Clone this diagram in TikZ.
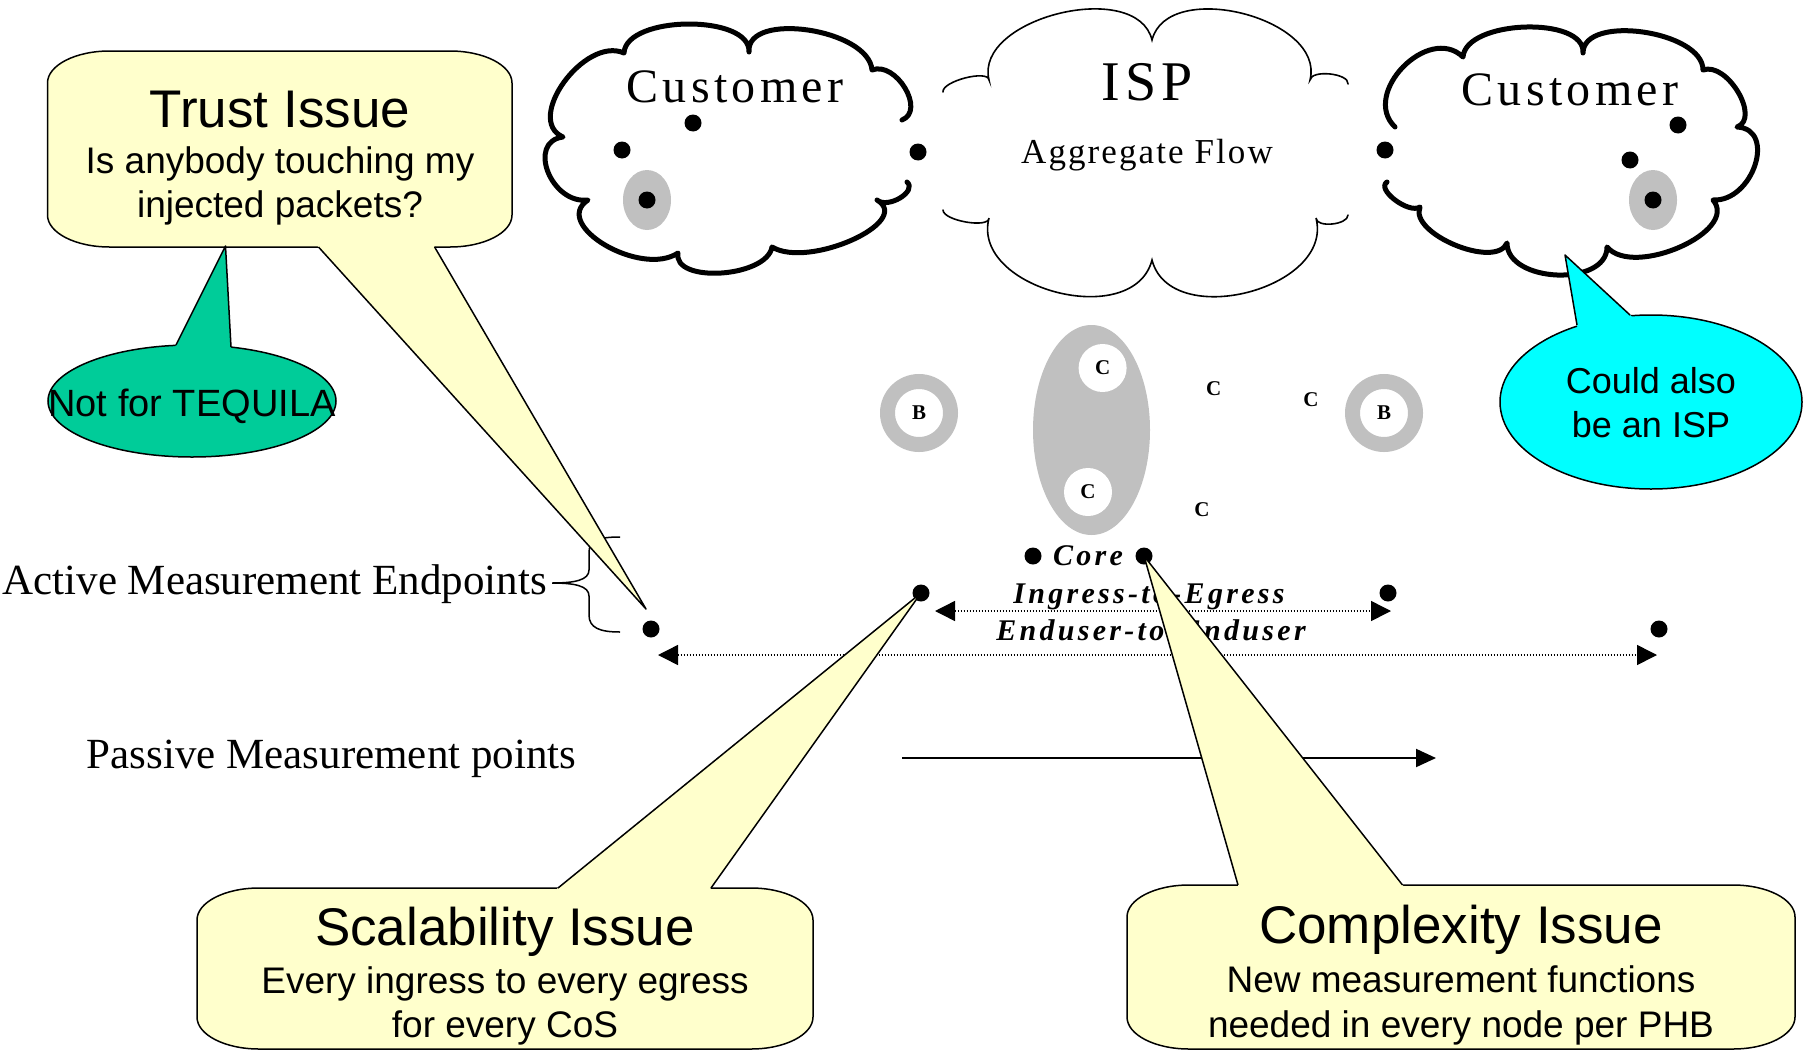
\documentclass[tikz,border=0pt]{standalone}
\usepackage{fontspec}
\setmainfont{Liberation Serif}
\newfontfamily\calloutfont{Liberation Sans}
\newfontfamily\spacedfont[LetterSpace=9]{Liberation Serif}
\newfontfamily\aggfont[LetterSpace=6]{Liberation Serif}
\newfontfamily\widefont[LetterSpace=11]{Liberation Serif}
\usetikzlibrary{calc,arrows.meta}

\definecolor{noteyellow}{HTML}{FFFFCC}
\definecolor{notegreen}{HTML}{00CC99}
\definecolor{notecyan}{HTML}{00FFFF}
\definecolor{ringgray}{HTML}{C0C0C0}

\newcommand{\setfs}[1]{\fontsize{#1}{#1}\selectfont}
\newcommand{\rtrfont}{\bfseries\setfs{21}}

% rounded note box with oval corners: x1, y1, x2, y2
\newcommand{\notebox}[4]{%
  \filldraw[notebody] ({#1+62},#2) -- ({#3-62},#2)
    .. controls ({#3-27.8},#2) and (#3,{#2+14.3}) .. (#3,{#2+32})
    -- (#3,{#4-32})
    .. controls (#3,{#4-14.3}) and ({#3-27.8},#4) .. ({#3-62},#4)
    -- ({#1+62},#4)
    .. controls ({#1+27.8},#4) and (#1,{#4-14.3}) .. (#1,{#4-32})
    -- (#1,{#2+32})
    .. controls (#1,{#2+14.3}) and ({#1+27.8},#2) .. ({#1+62},#2) -- cycle;}

% pointer of a note: fill colour, left base, tip, right base
\newcommand{\notetip}[4]{%
  \fill[#1] ($(#2)!-4pt!(#3)$) -- (#3) -- ($(#4)!-4pt!(#3)$) -- cycle;
  \draw[noteline] (#2) -- (#3) -- (#4);}

\tikzset{
  mdot/.style={circle, fill=black, inner sep=0pt, minimum size=17pt},
  bring/.style={circle, draw=ringgray, line width=15pt, fill=white, inner sep=0pt, minimum size=63pt, font=\rtrfont},
  cwhite/.style={circle, fill=white, inner sep=0pt, minimum size=48pt, font=\rtrfont},
  cbare/.style={inner sep=0pt, font=\rtrfont},
  cloudthick/.style={line width=5pt, line join=round, line cap=round},
  cloudthin/.style={line width=1.6pt, line cap=round},
  notebody/.style={fill=noteyellow, draw=black, line width=1.5pt},
  noteline/.style={draw=black, line width=1.5pt, line join=round},
  headtext/.style={anchor=base, inner sep=0pt, font=\calloutfont\setfs{53}},
  bodytext/.style={anchor=base, inner sep=0pt, font=\calloutfont\setfs{37}},
  custtext/.style={anchor=base, inner sep=0pt, font=\spacedfont\setfs{48}},
  flowtext/.style={anchor=base, inner sep=0pt, font=\widefont\bfseries\itshape\setfs{30}},
  labeltext/.style={anchor=base, inner sep=0pt, font=\setfs{43}},
  dotarrow/.style={line width=1.5pt, dash pattern=on 1.5pt off 1.5pt,
    {Triangle[length=20pt,width=20pt]}-{Triangle[length=20pt,width=20pt]}},
  passarrow/.style={line width=2pt, -{Triangle[length=20pt,width=18pt]}},
  epbrace/.style={line width=1.5pt}
}

\begin{document}
\begin{tikzpicture}[x=1pt, y=-1pt, inner sep=0pt, outer sep=0pt]
    \fill[white] (0,0) rectangle (1806,1052);
    \useasboundingbox (0,0) rectangle (1806,1052);

    % ISP cloud
    \draw[cloudthin] (943,92) .. controls (941.7,81.3) and (987.7,69.3) .. (989,80)
      .. controls (973.8,17.9) and (1136.8,-22.1) .. (1152,40)
      .. controls (1167.7,-22) and (1325.7,18) .. (1310,80)
      .. controls (1311.3,69.3) and (1349.3,73.3) .. (1348,84);
    \draw[cloudthin] (943,210) .. controls (943,220.7) and (989,228.7) .. (989,218)
      .. controls (970.6,289) and (1133.6,331) .. (1152,260)
      .. controls (1170.2,331.1) and (1334.2,289.1) .. (1316,218)
      .. controls (1316,228) and (1348,225) .. (1348,215);

    % customer clouds
    \draw[cloudthick] (907,182) .. controls (917.7,191.3) and (887.7,209.3) .. (877,200)
      .. controls (913.7,222) and (808.7,269) .. (772,247)
      .. controls (766.7,277.7) and (672.7,283.7) .. (678,253)
      .. controls (640.7,277.7) and (550.7,224.7) .. (588,200)
      .. controls (551.3,204.7) and (526.3,141.7) .. (563,137)
      .. controls (523.7,119.7) and (584.7,35.7) .. (624,53)
      .. controls (626,15) and (751,14) .. (749,52)
      .. controls (745.7,10.7) and (868.7,28.7) .. (872,70)
      .. controls (896,60.7) and (926,110.7) .. (902,120);
    \draw[cloudthick] (1395,127) .. controls (1360.3,93.7) and (1428.3,23.7) .. (1463,57)
      .. controls (1465.7,19.7) and (1585.7,15.7) .. (1583,53)
      .. controls (1583,13.7) and (1703,30.7) .. (1703,70)
      .. controls (1727,61.3) and (1761,118.3) .. (1737,127)
      .. controls (1777,129) and (1753,202) .. (1713,200)
      .. controls (1739.7,231.3) and (1633.7,278.3) .. (1607,247)
      .. controls (1607,287) and (1507,283) .. (1507,243)
      .. controls (1495.7,269.7) and (1408.7,233.7) .. (1420,207)
      .. controls (1408.7,214.3) and (1375.7,189.3) .. (1387,182);

    \fill[ringgray] (647,200) ellipse [x radius=24pt, y radius=30pt];
    \fill[ringgray] (1653,200) ellipse [x radius=24pt, y radius=30pt];

    \node[custtext] (cust_l_lbl) at (735,102) {Customer};
    \node[custtext] (cust_r_lbl) at (1570,105) {Customer};
    \node[anchor=base, font=\spacedfont\setfs{56}] (isp_lbl) at (1147,100) {ISP};
    \node[anchor=base, font=\aggfont\setfs{35}] (agg_lbl) at (1147,163) {Aggregate Flow};

    % measurement points
    \node[mdot] (cl_a) at (693,123) {};
    \node[mdot] (cl_b) at (622,150) {};
    \node[mdot] (cl_c) at (647,200) {};
    \node[mdot] (cl_gw) at (918,152) {};
    \node[mdot] (cr_gw) at (1385,150) {};
    \node[mdot] (cr_a) at (1678,125) {};
    \node[mdot] (cr_b) at (1630,160) {};
    \node[mdot] (cr_c) at (1653,200) {};
    \node[mdot] (core_l) at (1033,556) {};
    \node[mdot] (core_r) at (1144,556) {};
    \node[mdot] (ie_l) at (921,593) {};
    \node[mdot] (ie_r) at (1388,593) {};
    \node[mdot] (ee_l) at (651,629) {};
    \node[mdot] (ee_r) at (1659,629) {};

    % boundary and core routers
    \fill[ringgray] (1091.5,430) ellipse [x radius=58.5pt, y radius=105pt];
    \node[bring] (b_l) at (919,413) {B};
    \node[bring] (b_r) at (1384,413) {B};
    \node[cwhite] (c_1) at (1102.6,368) {C};
    \node[cwhite] (c_2) at (1088,492) {C};
    \node[cbare] (c_3) at (1213.6,389) {C};
    \node[cbare] (c_4) at (1311,400) {C};
    \node[cbare] (c_5) at (1202,510) {C};

    \node[flowtext] (core_lbl) at (1088,565) {Core};
    \node[flowtext] (ie_lbl) at (1149,603) {Ingress-to-Egress};
    \node[flowtext] (ee_lbl) at (1151,640) {Enduser-to-Enduser};

    \draw[dotarrow] ($(ie_l)+(14,18)$) -- ($(ie_r)+(3,18)$);
    \draw[dotarrow] ($(ee_l)+(7,26)$) -- ($(ee_r)+(-2,26)$);

    \coordinate (pas_a) at (902,758);
    \coordinate (pas_b) at (1436,758);
    \draw[passarrow] (pas_a) -- (pas_b);

    % left labels
    \node[labeltext, anchor=base east] (active_lbl) at (547,594) {Active Measurement Endpoints};
    \node[labeltext] (passive_lbl) at (331.5,768) {Passive Measurement points};
    \coordinate (brace_tip) at ($(active_lbl.base east)+(5,-11)$);
    \draw[epbrace] (620,537) .. controls (600,537) and (589,540) .. (589,552) -- (589,570)
      .. controls (589,580) and (575,583) .. (brace_tip)
      .. controls (575,583) and (589,586) .. (589,596) -- (589,615)
      .. controls (589,628) and (600,632) .. (620,632);

    % trust issue
    \notebox{47.5}{51}{512}{247}
    \coordinate (trust_pl) at (318.5,247);
    \coordinate (trust_pr) at (434.6,247);
    \coordinate (trust_tip) at ($(ee_l)+(-5,-20)$);
    \notetip{noteyellow}{trust_pl}{trust_tip}{trust_pr}
    \node[headtext] (trust_t) at (280,127) {Trust Issue};
    \node[bodytext] (trust_b1) at (280,173) {Is anybody touching my};
    \node[bodytext] (trust_b2) at (280,217) {injected packets?};

    % not for tequila
    \filldraw[fill=notegreen, draw=black, line width=1.5pt] (192,401) ellipse [x radius=144pt, y radius=56pt];
    \coordinate (teq_pl) at (176,345);
    \coordinate (teq_pr) at (231,347);
    \coordinate (teq_tip) at (225.5,246);
    \notetip{notegreen}{teq_pl}{teq_tip}{teq_pr}
    \node[anchor=base, font=\calloutfont\setfs{38}] (teq_lbl) at (192,416) {Not for TEQUILA};

    % could also be an isp
    \filldraw[fill=notecyan, draw=black, line width=1.5pt] (1651,402) ellipse [x radius=151pt, y radius=87pt];
    \coordinate (isp_pl) at (1577,325);
    \coordinate (isp_pr) at (1630,315);
    \coordinate (isp_tip) at (1565,255);
    \notetip{notecyan}{isp_pl}{isp_tip}{isp_pr}
    \node[anchor=base, font=\calloutfont\setfs{36}] (isp_n1) at (1651,393) {Could also};
    \node[anchor=base, font=\calloutfont\setfs{36}] (isp_n2) at (1651,437) {be an ISP};

    % scalability issue
    \notebox{197}{888}{813}{1049}
    \coordinate (scal_pl) at (558,888);
    \coordinate (scal_pr) at (711,888);
    \notetip{noteyellow}{scal_pl}{ie_l.center}{scal_pr}
    \node[headtext] (scal_t) at (505,945) {Scalability Issue};
    \node[bodytext] (scal_b1) at (505,993) {Every ingress to every egress};
    \node[bodytext] (scal_b2) at (505,1037) {for every CoS};

    % complexity issue
    \notebox{1127}{885}{1795}{1049}
    \coordinate (comp_pl) at (1238,885);
    \coordinate (comp_pr) at (1402.5,885);
    \notetip{noteyellow}{comp_pl}{core_r.center}{comp_pr}
    \node[headtext] (comp_t) at (1461,943) {Complexity Issue};
    \node[bodytext] (comp_b1) at (1461,992) {New measurement functions};
    \node[bodytext] (comp_b2) at (1461,1037) {needed in every node per PHB};
\end{tikzpicture}
\end{document}
